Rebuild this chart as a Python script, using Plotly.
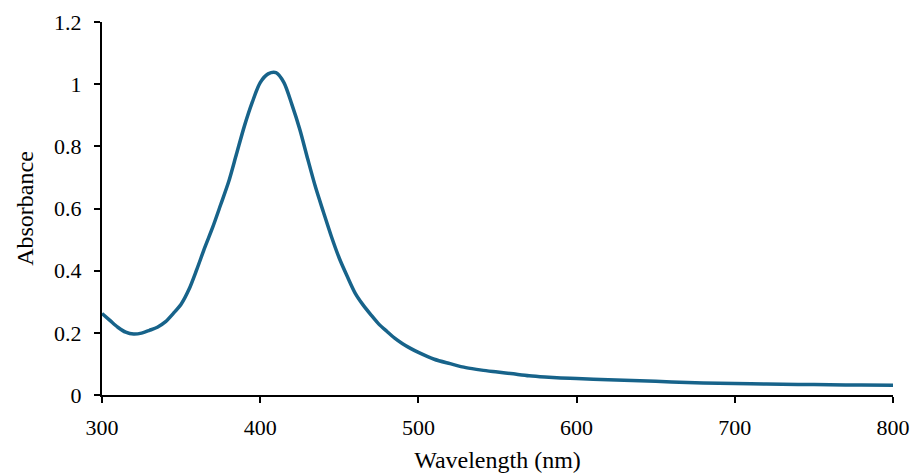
import plotly.graph_objects as go

wavelength = [300, 305, 310, 315, 320, 325, 330, 335, 340, 345, 350, 355, 360, 365, 370,
              375, 380, 385, 390, 395, 400, 405, 410, 415, 420, 425, 430, 435, 440, 445,
              450, 455, 460, 465, 470, 475, 480, 485, 490, 495, 500, 510, 520, 530, 540,
              550, 560, 570, 580, 590, 600, 620, 640, 660, 680, 700, 720, 740, 760, 780, 800]
absorbance = [0.262, 0.240, 0.218, 0.202, 0.196, 0.199, 0.208, 0.218, 0.235, 0.262, 0.292,
              0.340, 0.405, 0.475, 0.540, 0.612, 0.685, 0.775, 0.865, 0.942, 1.005, 1.033,
              1.037, 1.005, 0.935, 0.855, 0.760, 0.668, 0.588, 0.510, 0.440, 0.382, 0.328,
              0.290, 0.258, 0.228, 0.205, 0.183, 0.165, 0.150, 0.137, 0.115, 0.101, 0.088,
              0.080, 0.074, 0.068, 0.062, 0.058, 0.055, 0.053, 0.049, 0.046, 0.042, 0.039,
              0.037, 0.035, 0.034, 0.033, 0.032, 0.031]

x_ticks = [300, 400, 500, 600, 700, 800]
y_ticks = [0, 0.2, 0.4, 0.6, 0.8, 1, 1.2]
y_tick_labels = ["0", "0.2", "0.4", "0.6", "0.8", "1", "1.2"]

font = "Liberation Serif, Times New Roman, serif"

fig = go.Figure()
fig.add_trace(go.Scatter(
    x=wavelength, y=absorbance, mode="lines",
    line=dict(color="#17638A", width=3.5, shape="spline", smoothing=0.8),
    showlegend=False,
))

fig.update_layout(
    width=914, height=473,
    margin=dict(l=102, r=21, t=22, b=78),
    paper_bgcolor="white", plot_bgcolor="white",
    font=dict(family=font, size=22, color="black"),
)
fig.update_xaxes(
    range=[300, 800], tickvals=x_ticks, ticktext=[str(v) for v in x_ticks],
    showgrid=False, zeroline=False, showline=True, linecolor="black", linewidth=2,
    ticks="outside", ticklen=6, tickwidth=2, tickcolor="black", automargin=False,
    tickfont=dict(family=font, size=22), ticklabelstandoff=6,
    title=dict(text="Wavelength (nm)", font=dict(family=font, size=24), standoff=12),
)
fig.update_yaxes(
    range=[0, 1.2], tickvals=y_ticks, ticktext=y_tick_labels,
    showgrid=False, zeroline=False, showline=True, linecolor="black", linewidth=2,
    ticks="outside", ticklen=6, tickwidth=2, tickcolor="black", automargin=False,
    tickfont=dict(family=font, size=22), ticklabelstandoff=8,
    title=dict(text="Absorbance", font=dict(family=font, size=24), standoff=14),
)

fig.write_html("out.html")
